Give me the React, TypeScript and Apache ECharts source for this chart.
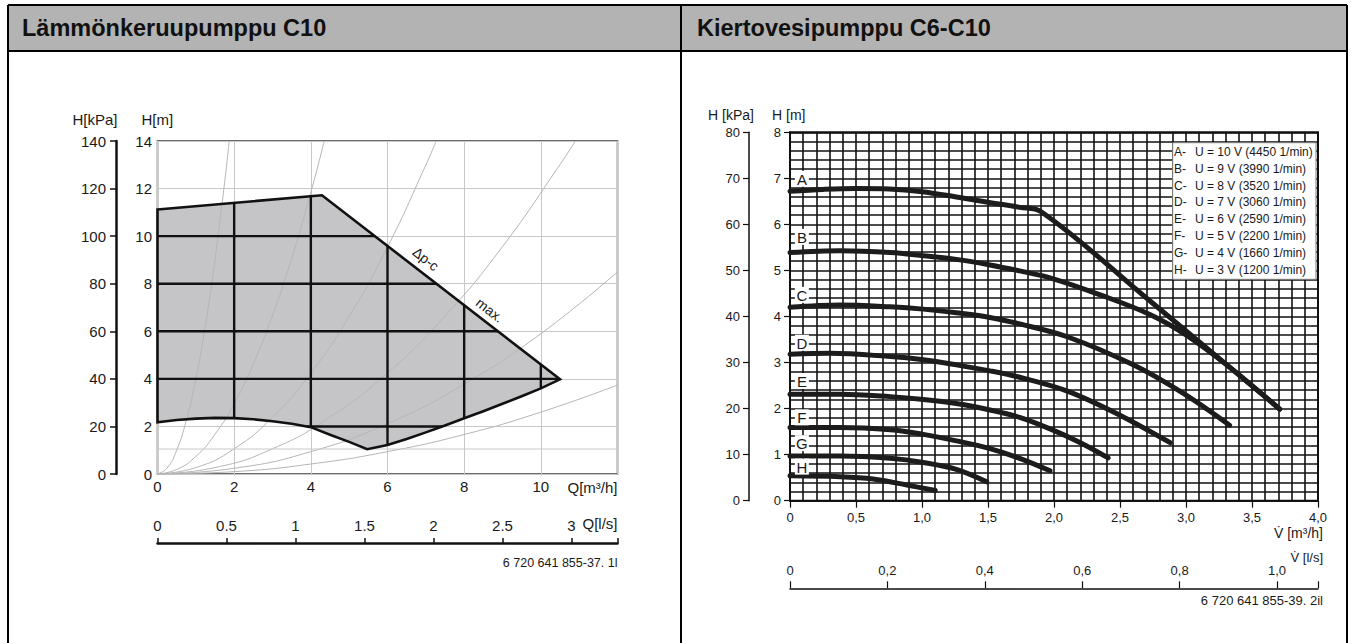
import React, { useEffect, useRef } from "react";
import * as echarts from "echarts";

// ---------------- Titles ----------------
const leftTitle = "Lämmönkeruupumppu C10";
const rightTitle = "Kiertovesipumppu C6-C10";

// ---------------- Left chart data (Q [m³/h], H [m]) ----------------
const envelopeTop: number[][] = [
  [0, 11.12],
  [4.29, 11.72],
  [10.5, 3.98],
];
const envelopeBottom: number[][] = [
  [0, 2.17], [0.5, 2.27], [1, 2.33], [1.5, 2.36], [2, 2.35], [2.5, 2.3],
  [3, 2.22], [3.5, 2.11], [4, 1.97], [4.5, 1.65], [5, 1.35], [5.47, 1.04],
  [6, 1.22], [6.5, 1.47], [7, 1.75], [7.5, 2.04], [8, 2.34], [8.5, 2.64],
  [9, 2.95], [9.5, 3.27], [10, 3.6], [10.5, 3.98],
];
const envelopeGridQ = [2, 4, 6, 8, 10];
const envelopeGridH = [2, 4, 6, 8, 10, 12];
const minHeadLine: number[][] = [[0, 1.05], [12, 1.05]];
const systemCurve1: number[][] = [[0, 0], [0.25, 0.25], [0.5, 1], [0.75, 2.25], [1, 4], [1.25, 6.25], [1.5, 9], [1.75, 12.25], [1.87, 14]];
const systemCurve2: number[][] = [[0, 0], [0.5, 0.19], [1, 0.74], [1.5, 1.67], [2, 2.96], [2.5, 4.63], [3, 6.66], [3.5, 9.07], [4, 11.84], [4.35, 14]];
const systemCurve3: number[][] = [[0, 0], [1, 0.27], [2, 1.06], [3, 2.39], [4, 4.24], [5, 6.63], [6, 9.54], [7, 12.99], [7.27, 14]];
const systemCurve4: number[][] = [[0, 0], [1.5, 0.27], [3, 1.06], [4.5, 2.39], [6, 4.25], [7.5, 6.64], [9, 9.56], [10.5, 13.01], [10.9, 14]];
const systemCurve5: number[][] = [[0, 0], [2, 0.24], [4, 0.94], [6, 2.12], [8, 3.78], [10, 5.9], [12, 8.5]];
const systemCurve6: number[][] = [[0, 0], [2, 0.1], [4, 0.42], [6, 0.94], [8, 1.66], [10, 2.6], [12, 3.74]];
const systemCurves = [systemCurve1, systemCurve2, systemCurve3, systemCurve4, systemCurve5, systemCurve6];
const envelopeLabels = [
  { text: "Δp-c", q: 7.0, h: 9.04 },
  { text: "max.", q: 8.67, h: 6.89 },
];

// ---------------- Right chart data (V [m³/h], H [m]) ----------------
const curveA: number[][] = [[0, 6.72], [0.25, 6.76], [0.5, 6.78], [0.75, 6.77], [1.0, 6.71], [1.25, 6.6], [1.5, 6.48], [1.74, 6.37], [1.9, 6.28], [2.73, 4.33], [3.33, 2.9], [3.71, 1.99]];
const curveB: number[][] = [[0, 5.39], [0.38, 5.43], [0.76, 5.39], [1.01, 5.32], [1.26, 5.24], [1.515, 5.12], [1.74, 4.99], [1.97, 4.84], [2.35, 4.47], [2.73, 4.04], [3.0, 3.6], [3.33, 2.9], [3.71, 1.99]];
const curveC: number[][] = [[0, 4.2], [0.38, 4.25], [0.76, 4.21], [1.01, 4.16], [1.26, 4.08], [1.515, 3.98], [1.74, 3.84], [2.1, 3.56], [2.6, 2.95], [2.98, 2.33], [3.33, 1.64]];
const curveD: number[][] = [[0, 3.18], [0.3, 3.2], [0.76, 3.13], [1.01, 3.06], [1.26, 2.95], [1.515, 2.82], [1.74, 2.68], [2.1, 2.38], [2.47, 1.9], [2.88, 1.26]];
const curveE: number[][] = [[0, 2.31], [0.38, 2.31], [0.76, 2.26], [1.01, 2.2], [1.26, 2.11], [1.515, 1.97], [1.74, 1.81], [1.97, 1.56], [2.2, 1.26], [2.41, 0.93]];
const curveF: number[][] = [[0, 1.59], [0.38, 1.59], [0.76, 1.54], [1.01, 1.44], [1.26, 1.3], [1.515, 1.13], [1.74, 0.92], [1.97, 0.65]];
const curveG: number[][] = [[0, 0.97], [0.38, 0.97], [0.76, 0.92], [1.01, 0.83], [1.26, 0.68], [1.49, 0.41]];
const curveH: number[][] = [[0, 0.54], [0.38, 0.52], [0.63, 0.47], [0.885, 0.34], [1.1, 0.22]];
const pumpCurves = [curveA, curveB, curveC, curveD, curveE, curveF, curveG, curveH];
const curveLetters = ["A", "B", "C", "D", "E", "F", "G", "H"];
const curveLabelPos: number[][] = [[0.09, 6.99], [0.09, 5.73], [0.09, 4.47], [0.09, 3.43], [0.09, 2.6], [0.09, 1.81], [0.09, 1.25], [0.09, 0.74]];
const legendVoltages = [10, 9, 8, 7, 6, 5, 4, 3];
const legendRpm = [4450, 3990, 3520, 3060, 2590, 2200, 1660, 1200];

// ---------------- Layout ----------------
const FONT = "'Liberation Sans', Arial, Helvetica, sans-serif";
const INK = "#1a1a1a";
const L = { left: 157.5, top: 141, width: 460, height: 333 };
const R = { left: 790, top: 132.3, width: 528, height: 368.4 };
const FRAME = { left: 8, right: 1347, top: 5, headerBottom: 51, bottom: 643, divider: 681 };

const envelopePolygon: number[][] = [...envelopeTop, ...envelopeBottom.slice(0, -1).reverse()];

function scanPolygon(poly: number[][], value: number, axis: number): number[] {
  const other = 1 - axis;
  const hits: number[] = [];
  for (let i = 0; i < poly.length; i++) {
    const p1 = poly[i];
    const p2 = poly[(i + 1) % poly.length];
    const a = p1[axis];
    const b = p2[axis];
    if ((a <= value && b > value) || (b <= value && a > value)) {
      const t = (value - a) / (b - a);
      hits.push(p1[other] + t * (p2[other] - p1[other]));
    }
  }
  return hits.sort((m, n) => m - n);
}

function txt(text: string, x: number, y: number, size: number, align = "left", extra: any = {}) {
  return {
    type: "text",
    x,
    y,
    z: 50,
    style: {
      text,
      fill: INK,
      fontSize: size,
      fontFamily: FONT,
      align,
      verticalAlign: "middle",
      ...extra,
    },
  };
}

function commaFmt(v: number) {
  if (Math.abs(v) < 1e-9) return "0";
  return v.toFixed(1).replace(".", ",");
}

function buildOption(): any {
  const labelBase = { color: INK, fontFamily: FONT };
  const lightGrid = { show: true, lineStyle: { color: "#c8c8c8", width: 1 } };
  const darkGrid = { show: true, lineStyle: { color: "#111111", width: 1.6 } };

  const series: any[] = [];

  // Envelope fill
  series.push({
    type: "custom",
    xAxisIndex: 0,
    yAxisIndex: 0,
    z: 1,
    silent: true,
    data: [[0, 0]],
    renderItem: (_p: any, api: any) => ({
      type: "polygon",
      shape: { points: envelopePolygon.map((p) => api.coord(p)) },
      style: { fill: "#c5c5c7", stroke: "none" },
    }),
  });

  // System curves
  systemCurves.forEach((c) => {
    series.push({
      type: "line",
      xAxisIndex: 0,
      yAxisIndex: 0,
      data: c,
      smooth: true,
      showSymbol: false,
      silent: true,
      z: 2,
      lineStyle: { color: "#b5b5b5", width: 1 },
    });
  });
  series.push({
    type: "line",
    xAxisIndex: 0,
    yAxisIndex: 0,
    data: minHeadLine,
    showSymbol: false,
    silent: true,
    z: 2,
    lineStyle: { color: "#c8c8c8", width: 1 },
  });

  // Envelope grid lines (inside), outline and labels
  series.push({
    type: "custom",
    xAxisIndex: 0,
    yAxisIndex: 0,
    z: 3,
    silent: true,
    data: [[0, 0]],
    renderItem: (_p: any, api: any) => {
      const children: any[] = [];
      const lineStyle = { stroke: "#111", lineWidth: 2.4 };
      envelopeGridQ.forEach((q) => {
        const ys = scanPolygon(envelopePolygon, q, 0);
        for (let i = 0; i + 1 < ys.length; i += 2) {
          const a = api.coord([q, ys[i]]);
          const b = api.coord([q, ys[i + 1]]);
          children.push({ type: "line", shape: { x1: a[0], y1: a[1], x2: b[0], y2: b[1] }, style: lineStyle });
        }
      });
      envelopeGridH.forEach((h) => {
        const xs = scanPolygon(envelopePolygon, h, 1);
        for (let i = 0; i + 1 < xs.length; i += 2) {
          const a = api.coord([xs[i], h]);
          const b = api.coord([xs[i + 1], h]);
          children.push({ type: "line", shape: { x1: a[0], y1: a[1], x2: b[0], y2: b[1] }, style: lineStyle });
        }
      });
      children.push({
        type: "polygon",
        shape: { points: envelopePolygon.map((p) => api.coord(p)) },
        style: { fill: "none", stroke: "#111", lineWidth: 2.6, lineJoin: "miter" },
      });
      const p1 = api.coord(envelopeTop[1]);
      const p2 = api.coord(envelopeTop[2]);
      const ang = Math.atan2(p2[1] - p1[1], p2[0] - p1[0]);
      envelopeLabels.forEach((lb) => {
        const c = api.coord([lb.q, lb.h]);
        children.push({
          type: "text",
          x: c[0],
          y: c[1],
          rotation: -ang,
          style: { text: lb.text, fill: INK, fontSize: 14, fontFamily: FONT, align: "center", verticalAlign: "middle" },
        });
      });
      return { type: "group", children };
    },
  });

  // Right chart pump curves
  pumpCurves.forEach((c, i) => {
    series.push({
      type: "line",
      name: curveLetters[i],
      xAxisIndex: 2,
      yAxisIndex: 2,
      data: c,
      smooth: 0.35,
      showSymbol: false,
      silent: true,
      z: 4,
      lineStyle: { color: "#1c1c1c", width: 5, cap: "round", join: "round" },
    });
  });
  // Curve letters in white boxes
  series.push({
    type: "custom",
    xAxisIndex: 2,
    yAxisIndex: 2,
    z: 5,
    silent: true,
    data: curveLabelPos,
    renderItem: (params: any, api: any) => {
      const c = api.coord([api.value(0), api.value(1)]);
      return {
        type: "group",
        children: [
          { type: "rect", shape: { x: c[0] - 7, y: c[1] - 8, width: 14, height: 16 }, style: { fill: "#fff" } },
          {
            type: "text",
            x: c[0],
            y: c[1] + 0.5,
            style: { text: curveLetters[params.dataIndex], fill: INK, fontSize: 15, fontFamily: FONT, align: "center", verticalAlign: "middle" },
          },
        ],
      };
    },
  });

  // Graphic: frame, headers, axis titles, captions, legend
  const graphic: any[] = [
    { type: "rect", z: 0, shape: { x: FRAME.left, y: FRAME.top, width: FRAME.right - FRAME.left, height: FRAME.headerBottom - FRAME.top }, style: { fill: "#b3b3b3" } },
    { type: "line", z: 60, shape: { x1: FRAME.left, y1: FRAME.top, x2: FRAME.right, y2: FRAME.top }, style: { stroke: "#000", lineWidth: 2 } },
    { type: "line", z: 60, shape: { x1: FRAME.left, y1: FRAME.headerBottom, x2: FRAME.right, y2: FRAME.headerBottom }, style: { stroke: "#000", lineWidth: 2 } },
    { type: "line", z: 60, shape: { x1: FRAME.left, y1: FRAME.top, x2: FRAME.left, y2: FRAME.bottom }, style: { stroke: "#000", lineWidth: 2 } },
    { type: "line", z: 60, shape: { x1: FRAME.right, y1: FRAME.top, x2: FRAME.right, y2: FRAME.bottom }, style: { stroke: "#000", lineWidth: 2 } },
    { type: "line", z: 60, shape: { x1: FRAME.divider, y1: FRAME.top, x2: FRAME.divider, y2: FRAME.bottom }, style: { stroke: "#000", lineWidth: 2 } },
    txt(leftTitle, 22, 28, 23.5, "left", { fontWeight: "bold", fill: "#111" }),
    txt(rightTitle, 697, 28, 23.5, "left", { fontWeight: "bold", fill: "#111" }),
    // left axis titles
    txt("H[kPa]", 117.5, 119, 15, "right"),
    txt("H[m]", 141.5, 119, 15, "left"),
    txt("Q[m³/h]", L.left + L.width, 487, 15, "right"),
    txt("Q[l/s]", L.left + L.width, 523, 15, "right"),
    txt("6 720 641 855-37. 1l", L.left + L.width, 563, 12.5, "right"),
    // right axis titles
    txt("H [kPa]", 754, 115, 14, "right"),
    txt("H [m]", 772, 115, 14, "left"),
    txt("V̇ [m³/h]", 1323, 533, 14, "right"),
    txt("V̇ [l/s]", 1323, 557, 13, "right"),
    txt("6 720 641 855-39. 2il", 1323, 600, 13, "right"),
  ];

  graphic.push({ type: "rect", z: 48, shape: { x: 1172.7, y: 142.7, width: 143.3, height: 136.6 }, style: { fill: "#fff", stroke: "#7a7a7a", lineWidth: 1 } });
  curveLetters.forEach((l, i) => {
    const y = 151.7 + i * 16.9;
    graphic.push(txt(`${l}-`, 1174, y, 12, "left"));
    graphic.push(txt(`U = ${legendVoltages[i]} V (${legendRpm[i]} 1/min)`, 1195, y, 12, "left"));
  });

  const noZero = { onZero: false };

  return {
    animation: false,
    backgroundColor: "#fff",
    textStyle: { fontFamily: FONT },
    grid: [
      { left: L.left, top: L.top, width: L.width, height: L.height, show: true, borderColor: "#3a3a3a", borderWidth: 1.5, backgroundColor: "transparent" },
      { left: R.left, top: R.top, width: R.width, height: R.height, show: true, borderColor: "#111", borderWidth: 2, backgroundColor: "transparent" },
    ],
    xAxis: [
      {
        gridIndex: 0, type: "value", min: 0, max: 12, interval: 2, position: "bottom",
        axisLine: { show: false, ...noZero }, axisTick: { show: false },
        axisLabel: { ...labelBase, margin: 5, fontSize: 15, formatter: (v: number) => (v >= 12 ? "" : String(v)) },
        splitLine: lightGrid,
      },
      {
        gridIndex: 0, type: "value", min: 0, max: 12 / 3.6, interval: 0.5, position: "bottom", offset: 69,
        axisLine: { show: true, ...noZero, lineStyle: { color: "#111", width: 2.5 } },
        axisTick: { show: true, inside: true, length: 5, lineStyle: { color: "#111", width: 1.5 } },
        axisLabel: { ...labelBase, inside: true, margin: 10, fontSize: 15, formatter: (v: number) => (Math.abs(v * 2 - Math.round(v * 2)) < 1e-6 ? String(v) : "") },
        splitLine: { show: false },
      },
      {
        gridIndex: 1, type: "value", min: 0, max: 4, interval: 0.5, position: "bottom",
        axisLine: { show: true, ...noZero, lineStyle: { color: "#111", width: 1.5 } },
        axisTick: { show: true, length: 7, lineStyle: { color: "#111", width: 1.2 } },
        minorTick: { show: false, splitNumber: 5 },
        axisLabel: { ...labelBase, margin: 10, fontSize: 13, formatter: commaFmt },
        splitLine: darkGrid,
        minorSplitLine: darkGrid,
      },
      {
        gridIndex: 1, type: "value", min: 0, max: 1.0842, interval: 0.2, position: "bottom", offset: 87.6,
        axisLine: { show: true, ...noZero, lineStyle: { color: "#111", width: 1.5 } },
        axisTick: { show: true, inside: true, length: 7, lineStyle: { color: "#111", width: 1.2 } },
        axisLabel: { ...labelBase, inside: true, margin: 11, fontSize: 13, formatter: (v: number) => (Math.abs(v * 5 - Math.round(v * 5)) < 1e-6 ? commaFmt(v) : "") },
        splitLine: { show: false },
      },
    ],
    yAxis: [
      {
        gridIndex: 0, type: "value", min: 0, max: 14, interval: 2, position: "left",
        axisLine: { show: false, ...noZero }, axisTick: { show: false },
        axisLabel: { ...labelBase, margin: 5.5, fontSize: 15 },
        splitLine: lightGrid,
      },
      {
        gridIndex: 0, type: "value", min: 0, max: 140, interval: 20, position: "left", offset: 41.5,
        axisLine: { show: true, ...noZero, lineStyle: { color: "#111", width: 2.5 } },
        axisTick: { show: true, length: 6, lineStyle: { color: "#111", width: 1.5 } },
        axisLabel: { ...labelBase, margin: 10, fontSize: 15 },
        splitLine: { show: false },
      },
      {
        gridIndex: 1, type: "value", min: 0, max: 8, interval: 1, position: "left",
        axisLine: { show: true, ...noZero, lineStyle: { color: "#111", width: 1.5 } },
        axisTick: { show: true, length: 6, lineStyle: { color: "#111", width: 1.2 } },
        minorTick: { show: false, splitNumber: 5 },
        axisLabel: { ...labelBase, margin: 9, fontSize: 13 },
        splitLine: darkGrid,
        minorSplitLine: darkGrid,
      },
      {
        gridIndex: 1, type: "value", min: 0, max: 80, interval: 10, position: "left", offset: 41,
        axisLine: { show: true, ...noZero, lineStyle: { color: "#111", width: 1.5 } },
        axisTick: { show: true, length: 6, lineStyle: { color: "#111", width: 1.2 } },
        axisLabel: { ...labelBase, margin: 9, fontSize: 13 },
        splitLine: { show: false },
      },
    ],
    graphic,
    series,
  };
}

export default function App() {
  const ref = useRef<HTMLDivElement>(null);
  useEffect(() => {
    if (!ref.current) return;
    const chart = echarts.init(ref.current, undefined, { renderer: "svg" });
    chart.setOption(buildOption());
    return () => chart.dispose();
  }, []);
  return <div ref={ref} style={{ position: "absolute", left: 0, top: 0, width: 1355, height: 643 }} />;
}
